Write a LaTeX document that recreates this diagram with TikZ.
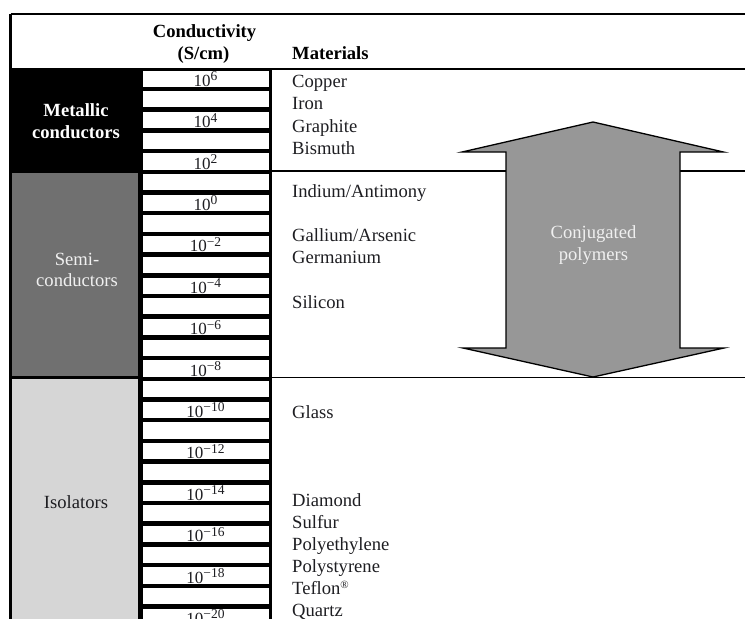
\documentclass[tikz,border=0pt]{standalone}
\usepackage{fontspec}
\setmainfont{Liberation Serif}
\definecolor{semigray}{RGB}{112,112,112}
\definecolor{isogray}{RGB}{214,214,214}
\definecolor{arrowgray}{RGB}{151,151,151}
\definecolor{inkdark}{RGB}{30,30,34}
\definecolor{lighttext}{RGB}{240,240,240}
\newcommand{\tenpow}[1]{10\raisebox{5.5pt}{\fontsize{13.5}{13.5}\selectfont #1}}
\begin{document}
\begin{tikzpicture}[x=1pt,y=-1pt,
  reg/.style={font=\fontsize{18.6}{21.5}\selectfont, inner sep=0pt, text=inkdark},
  bld/.style={font=\bfseries\fontsize{18.6}{21.5}\selectfont, inner sep=0pt},
  mat/.style={reg, anchor=base west},
  cellnum/.style={font=\fontsize{17}{18}\selectfont, inner sep=0pt, anchor=base, text=inkdark},
  frame/.style={line width=2.2pt},
  sepline/.style={line width=1.7pt},
  arrowshape/.style={fill=arrowgray, draw=black, line width=1.3pt, line join=miter}]
\useasboundingbox (0,0) rectangle (745,619);
% black background of left column + ladder
\fill[black] (9.3,68) rectangle (272,619);
% category boxes
\fill[semigray] (11.7,173.3) rectangle (138.3,375.5);
\fill[isogray] (11.7,378.5) rectangle (138.3,619);
% ladder cells
\foreach \i in {0,...,26}{
  \pgfmathsetmacro\ta{68+20.7*\i+2.5}
  \pgfmathsetmacro\tb{min(619,68+20.7*\i+18.7)}
  \fill[white] (142.5,\ta) rectangle (268.5,\tb);
}
\foreach \i in {0,2,...,26}{
  \pgfmathtruncatemacro\e{6-\i}
  \pgfmathsetmacro\yb{68+20.7*\i+18.2}
  \ifnum\e<0
    \pgfmathtruncatemacro\ea{-\e}
    \node[cellnum] (cell\i) at (205.5,\yb) {\tenpow{−\ea}};
  \else
    \node[cellnum] (cell\i) at (205.5,\yb) {\tenpow{\e}};
  \fi
}
% frame lines
\draw[frame] (10.5,14.2) -- (745,14.2);
\draw[frame] (10.5,14.2) -- (10.5,68);
\draw[line width=2pt] (9.3,69) -- (745,69);
\draw[sepline] (272,170.8) -- (745,170.8);
\draw[sepline] (272,377.6) -- (745,377.6);
% header
\node[bld, anchor=base] (hcond) at (204.5,37.7) {Conductivity};
\node[bld, anchor=base] (hunit) at (203.5,59.3) {(S/cm)};
\node[bld, anchor=base west] (hmat) at (292,59.3) {Materials};
% category labels
\node[bld, anchor=base, text=white] (met1) at (76,116.5) {Metallic};
\node[bld, anchor=base, text=white] (met2) at (76,138.3) {conductors};
\node[reg, anchor=base, text=lighttext] (sem1) at (77,265) {Semi-};
\node[reg, anchor=base, text=lighttext] (sem2) at (77,286.5) {conductors};
\node[reg, anchor=base] (iso) at (76,508) {Isolators};
% materials
\node[mat] (m1) at (292,87) {Copper};
\node[mat] (m2) at (292,109.5) {Iron};
\node[mat] (m3) at (292,132) {Graphite};
\node[mat] (m4) at (292,154) {Bismuth};
\node[mat] (m5) at (292,197.5) {Indium/Antimony};
\node[mat] (m6) at (292,241.5) {Gallium/Arsenic};
\node[mat] (m7) at (292,263.5) {Germanium};
\node[mat] (m8) at (292,308) {Silicon};
\node[mat] (m9) at (292,418) {Glass};
\node[mat] (m10) at (292,506.6) {Diamond};
\node[mat] (m11) at (292,528.5) {Sulfur};
\node[mat] (m12) at (292,550.4) {Polyethylene};
\node[mat] (m13) at (292,572.3) {Polystyrene};
\node[mat] (m14) at (292,594.2) {Teflon\raisebox{6pt}{\fontsize{11}{11}\selectfont ®}};
\node[mat] (m15) at (292,616) {Quartz};
% conjugated polymers arrow
\draw[arrowshape] (593,122) -- (723.5,152) -- (680,152) -- (680,348) -- (724,348)
  -- (593,377) -- (463,348) -- (506,348) -- (506,152) -- (462,152) -- cycle;
\node[reg, anchor=base, text=lighttext] (cp1) at (593.5,238.3) {Conjugated};
\node[reg, anchor=base, text=lighttext] (cp2) at (593.5,260.5) {polymers};
\end{tikzpicture}
\end{document}
